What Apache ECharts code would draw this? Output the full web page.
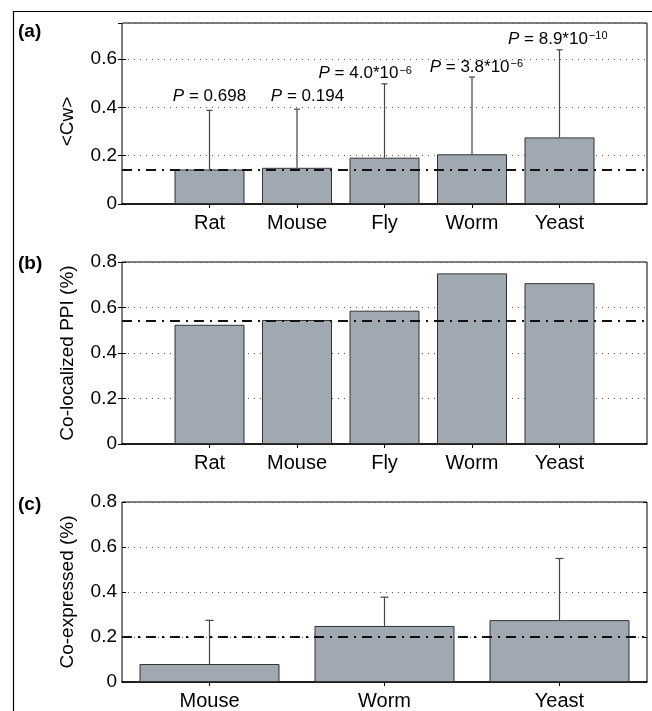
<!DOCTYPE html>
<html>
<head>
<meta charset="utf-8">
<style>
  html, body { margin: 0; padding: 0; background: #ffffff; }
  #chart { width: 652px; height: 711px; }
</style>
<script src="https://cdn.jsdelivr.net/npm/echarts@6/dist/echarts.min.js"></script>
</head>
<body>
<div id="chart"></div>
<script>
// ---------- data ----------
const speciesAB = ['Rat', 'Mouse', 'Fly', 'Worm', 'Yeast'];
const cwMean = [0.143, 0.150, 0.192, 0.206, 0.276];
const cwErrUpper = [0.388, 0.393, 0.498, 0.526, 0.639];
const cwReference = 0.145;
const pValueText = ['0.698', '0.194', '4.0*10', '3.8*10', '8.9*10'];
const pValueExp = ['', '', '−6', '−6', '−10'];

const ppiPct = [0.524, 0.545, 0.586, 0.750, 0.707];
const ppiReference = 0.544;

const speciesC = ['Mouse', 'Worm', 'Yeast'];
const coexpPct = [0.080, 0.249, 0.275];
const coexpErrUpper = [0.274, 0.377, 0.549];
const coexpReference = 0.200;

// ---------- layout (not data) ----------
const pLabelX = [1.0, 2.12, 2.78, 4.05, 4.98];
const pLabelY = [0.447, 0.447, 0.540, 0.567, 0.682];

const FONT = '"Liberation Sans", Arial, Helvetica, sans-serif';
const TXT = '#000000';
const BAR_FILL = '#a0a9b2';
const BAR_EDGE = '#333333';
const GRID_LEFT = 122, GRID_W = 525;
const grids = [
  { left: GRID_LEFT, top: 23, width: GRID_W, height: 181 },
  { left: GRID_LEFT, top: 262, width: GRID_W, height: 182 },
  { left: GRID_LEFT, top: 502, width: GRID_W, height: 181 }
];

const chart = echarts.init(document.getElementById('chart'), null, { renderer: 'canvas' });

function yAxisPair(gi, max, name, namePad, showMax) {
  const common = {
    gridIndex: gi, type: 'value', min: 0, max: max, interval: 0.2,
    axisLine: { show: false },
    axisTick: { show: true, inside: true, length: 4, lineStyle: { color: '#000', width: 1 } }
  };
  return [
    Object.assign({}, common, {
      position: 'left',
      name: name, nameLocation: 'middle', nameGap: 45,
      nameTextStyle: { fontFamily: FONT, fontSize: 19, color: TXT, padding: namePad },
      axisLabel: {
        show: true, margin: 5, fontFamily: FONT, fontSize: 19, color: TXT,
        showMaxLabel: showMax,
        formatter: v => (Math.abs(v) < 1e-9 ? '0' : String(+v.toFixed(2)))
      },
      splitLine: { show: true, lineStyle: { color: '#555', width: 1, type: [1, 5] } }
    }),
    Object.assign({}, common, {
      position: 'right',
      axisLabel: { show: false },
      splitLine: { show: false }
    })
  ];
}

function xAxisValuePair(gi) {
  const common = {
    gridIndex: gi, type: 'value', min: 0, max: 6, interval: 1,
    splitLine: { show: false },
    axisTick: { show: true, inside: true, length: 4, customValues: [1, 2, 3, 4, 5], lineStyle: { color: '#000', width: 1 } }
  };
  return [
    Object.assign({}, common, {
      position: 'bottom',
      axisLine: { show: true, onZero: false, lineStyle: { color: '#000', width: 1.5 } },
      axisLabel: {
        show: true, margin: 9, fontFamily: FONT, fontSize: 20, color: TXT,
        formatter: v => speciesAB[v - 1] || ''
      }
    }),
    Object.assign({}, common, {
      position: 'top',
      axisLine: { show: false },
      axisLabel: { show: false }
    })
  ];
}

function xAxisCatPair(gi) {
  const common = {
    gridIndex: gi, type: 'category', data: speciesC, boundaryGap: true,
    splitLine: { show: false },
    axisTick: { show: true, inside: true, length: 4, alignWithLabel: true, lineStyle: { color: '#000', width: 1 } }
  };
  return [
    Object.assign({}, common, {
      position: 'bottom',
      axisLine: { show: true, onZero: false, lineStyle: { color: '#000', width: 1.5 } },
      axisLabel: { show: true, margin: 9, fontFamily: FONT, fontSize: 20, color: TXT }
    }),
    Object.assign({}, common, {
      position: 'top',
      axisLine: { show: false },
      axisLabel: { show: false }
    })
  ];
}

function refLine(value) {
  return {
    silent: true, symbol: ['none', 'none'], z: 10,
    label: { show: false },
    lineStyle: { color: '#111', width: 2, type: [10, 6, 2, 6] },
    data: [{ yAxis: value }]
  };
}

function barSeries(xi, yi, data, ref) {
  return {
    type: 'bar', xAxisIndex: xi, yAxisIndex: yi, data: data,
    barWidth: '80%', barGap: '-100%',
    itemStyle: { color: BAR_FILL, borderColor: BAR_EDGE, borderWidth: 1 },
    emphasis: { disabled: true },
    markLine: refLine(ref),
    z: 2
  };
}

function errSeries(xi, yi, data, cap, color) {
  return {
    type: 'custom', xAxisIndex: xi, yAxisIndex: yi, data: data, z: 4, silent: true,
    renderItem: function (params, api) {
      const x = api.value(0);
      const lo = api.coord([x, api.value(1)]);
      const hi = api.coord([x, api.value(2)]);
      const style = { stroke: color, lineWidth: 1.2 };
      return {
        type: 'group',
        children: [
          { type: 'line', shape: { x1: lo[0], y1: lo[1], x2: hi[0], y2: hi[1] }, style: style },
          { type: 'line', shape: { x1: hi[0] - cap, y1: hi[1], x2: hi[0] + cap, y2: hi[1] }, style: style }
        ]
      };
    }
  };
}

const xAxes = [].concat(xAxisValuePair(0), xAxisValuePair(1), xAxisCatPair(2));
const yAxes = [].concat(
  yAxisPair(0, 0.75, '<Cw>', [0, 16, 0, 0], false),
  yAxisPair(1, 0.8, 'Co-localized PPI (%)', [0, 0, 0, 0], true),
  yAxisPair(2, 0.8, 'Co-expressed (%)', [0, 0, 0, 0], true)
);

const pLabelData = pValueText.map((t, i) => ({
  value: [pLabelX[i], pLabelY[i]],
  label: {
    formatter: '{it|P}{n| = ' + t + '}' + (pValueExp[i] ? '{sup|' + pValueExp[i] + '}' : '')
  }
}));

const series = [
  errSeries(0, 0, cwMean.map((v, i) => [i + 1, v, cwErrUpper[i]]), 3, '#444'),
  barSeries(0, 0, cwMean.map((v, i) => [i + 1, v]), cwReference),
  {
    type: 'scatter', xAxisIndex: 0, yAxisIndex: 0, symbolSize: 1, silent: true,
    itemStyle: { color: 'rgba(0,0,0,0)', opacity: 1 }, z: 6,
    data: pLabelData,
    label: {
      show: true, position: [0.5, 0.5], align: 'center', verticalAlign: 'middle',
      color: TXT, opacity: 1, fontFamily: FONT, textBorderWidth: 0,
      rich: {
        it: { fontFamily: FONT, fontStyle: 'italic', fontSize: 17, lineHeight: 17, verticalAlign: 'bottom', color: TXT },
        n: { fontFamily: FONT, fontSize: 17, lineHeight: 17, verticalAlign: 'bottom', color: TXT },
        sup: { fontFamily: FONT, fontSize: 11, lineHeight: 11, verticalAlign: 'top', padding: [0, 0, 9, 1], color: TXT }
      }
    },
    labelLayout: { hideOverlap: false }
  },
  barSeries(2, 2, ppiPct.map((v, i) => [i + 1, v]), ppiReference),
  errSeries(4, 4, coexpPct.map((v, i) => [i, v, coexpErrUpper[i]]), 4, '#444'),
  barSeries(4, 4, coexpPct.slice(), coexpReference)
];

const option = {
  animation: false,
  backgroundColor: '#ffffff',
  textStyle: { fontFamily: FONT },
  grid: grids.map(g => Object.assign({ show: true, borderColor: '#000', borderWidth: 1, backgroundColor: 'transparent', containLabel: false }, g)),
  xAxis: xAxes,
  yAxis: yAxes,
  series: series,
  graphic: [
    { type: 'polyline', silent: true, shape: { points: [[13.5, 720], [13.5, 11.5], [660, 11.5]] }, style: { stroke: '#000', lineWidth: 1.2, fill: null } },
    { type: 'text', left: 18, top: 22, style: { text: '(a)', fontFamily: FONT, fontWeight: 'bold', fontSize: 19, fill: TXT } },
    { type: 'text', left: 18, top: 254, style: { text: '(b)', fontFamily: FONT, fontWeight: 'bold', fontSize: 19, fill: TXT } },
    { type: 'text', left: 18, top: 495, style: { text: '(c)', fontFamily: FONT, fontWeight: 'bold', fontSize: 19, fill: TXT } }
  ]
};

chart.setOption(option);
</script>
</body>
</html>
